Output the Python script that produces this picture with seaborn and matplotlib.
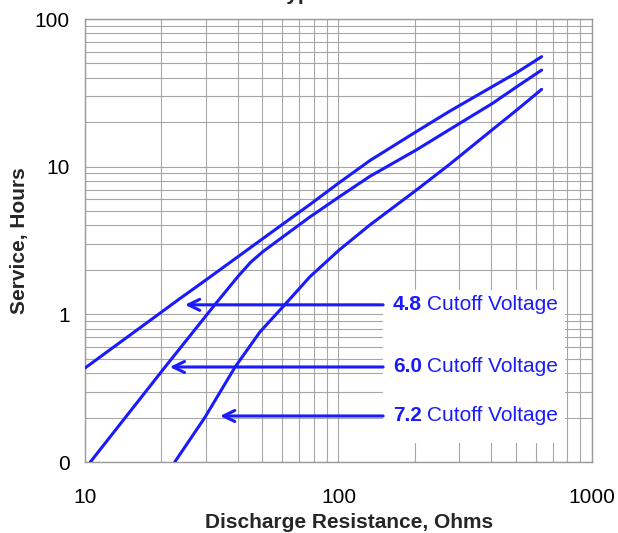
"""
    Service hours vs discharge resistance for three cutoff voltages.
    Log-log chart, values read off the reference picture.
"""
import pandas as pd
import seaborn as sns
import matplotlib.pyplot as plt
from matplotlib.ticker import FixedLocator, LogLocator, NullFormatter
from matplotlib.patches import Rectangle

#---- Data ----#
res_48 = [10, 20.1, 23.7, 30.0, 40.3, 50.2, 60.5, 77.2, 100.7, 133, 203, 275, 406, 505, 633]
hours_48 = [0.433, 1.04, 1.28, 1.71, 2.47, 3.25, 4.1, 5.55, 7.8, 11.0, 17.3, 23.8, 35.0, 43.4, 55.6]

res_60 = [10.5, 20.7, 32.1, 40.3, 45.0, 50.2, 62.5, 77.2, 100.7, 133, 203, 275, 406, 505, 633]
hours_60 = [0.1, 0.44, 1.13, 1.82, 2.25, 2.65, 3.5, 4.57, 6.25, 8.6, 13.0, 17.9, 26.9, 34.8, 45.1]

res_72 = [22.6, 29.7, 39.1, 49.0, 60.5, 77.2, 100.7, 133, 203, 275, 406, 505, 633]
hours_72 = [0.1, 0.20, 0.44, 0.76, 1.13, 1.80, 2.73, 4.03, 6.95, 10.4, 17.9, 24.2, 33.4]

cutoffs = ['4.8', '6.0', '7.2']
# where each label arrow points (resistance, hours) and where its tail starts
arrow_tips = [(24.8, 1.16), (21.6, 0.44), (34.1, 0.205)]
arrow_tail_res = 150
label_res = 164

y_ticks = [0.1, 1, 10, 100]
y_ticklabels = ['0', '1', '10', '100']
x_ticks = [10, 100, 1000]
x_ticklabels = ['10', '100', '1000']

BLUE = '#1a1aff'
GRID = '#a6a6a6'

df = pd.concat([
    pd.DataFrame({'resistance': res_48, 'hours': hours_48, 'cutoff': '4.8'}),
    pd.DataFrame({'resistance': res_60, 'hours': hours_60, 'cutoff': '6.0'}),
    pd.DataFrame({'resistance': res_72, 'hours': hours_72, 'cutoff': '7.2'}),
])

#---- Plot ----#
sns.set_style('white')
plt.rcParams['font.family'] = ['Liberation Sans', 'DejaVu Sans']

fig = plt.figure(figsize=(6.18, 5.33), dpi=100)
ax = fig.add_axes([0.1375, 0.1332, 0.8204, 0.8311])
ax.set_xscale('log')
ax.set_yscale('log')

sns.lineplot(data=df, x='resistance', y='hours', hue='cutoff',
             palette=[BLUE] * 3, linewidth=2.2, legend=False, ax=ax,
             zorder=4)

ax.set_xlim(10, 1000)
ax.set_ylim(0.1, 100)

ax.xaxis.set_major_locator(FixedLocator(x_ticks))
ax.set_xticklabels(x_ticklabels)
ax.yaxis.set_major_locator(FixedLocator(y_ticks))
ax.set_yticklabels(y_ticklabels)
for axis in (ax.xaxis, ax.yaxis):
    axis.set_minor_locator(LogLocator(base=10, subs=range(2, 10)))
    axis.set_minor_formatter(NullFormatter())
ax.tick_params(which='both', length=0, labelsize=15, colors='black')
ax.tick_params(axis='x', pad=19)
ax.tick_params(axis='y', pad=11)

ax.grid(which='both', color=GRID, linewidth=0.8)
ax.set_axisbelow(True)
for s in ax.spines.values():
    s.set_color('#999999')
    s.set_linewidth(1.0)

# white panel behind the labels hides the grid there
ax.add_patch(Rectangle((150, 0.135), 780 - 150, 1.46 - 0.135,
                       facecolor='white', edgecolor='none', zorder=2))

for cut, (tx, ty) in zip(cutoffs, arrow_tips):
    ax.annotate('', xy=(tx, ty), xytext=(arrow_tail_res, ty),
                arrowprops=dict(arrowstyle='->,head_length=0.45,head_width=0.22',
                                color=BLUE, lw=2.2, mutation_scale=18,
                                shrinkA=0, shrinkB=0),
                zorder=5)
    num = ax.text(label_res, ty, cut, color=BLUE, fontsize=15,
                  fontweight='bold', va='center', ha='left', zorder=6)
    ax.annotate('Cutoff Voltage', xy=(1, 0.5), xycoords=num,
                xytext=(4, 0), textcoords='offset points',
                color=BLUE, fontsize=15, va='center', ha='left', zorder=6)

ax.set_xlabel('Discharge Resistance, Ohms', fontsize=15, fontweight='bold',
              labelpad=4, x=0.521)
ax.set_ylabel('Service, Hours', fontsize=15, fontweight='bold', labelpad=4)

# title is cut off at the top edge in the source image
fig.text(275 / 618, 1.0, 'Typical Service Life', fontsize=15, fontweight='bold',
         ha='left', va='baseline')

fig.savefig('out.png', dpi=100)
